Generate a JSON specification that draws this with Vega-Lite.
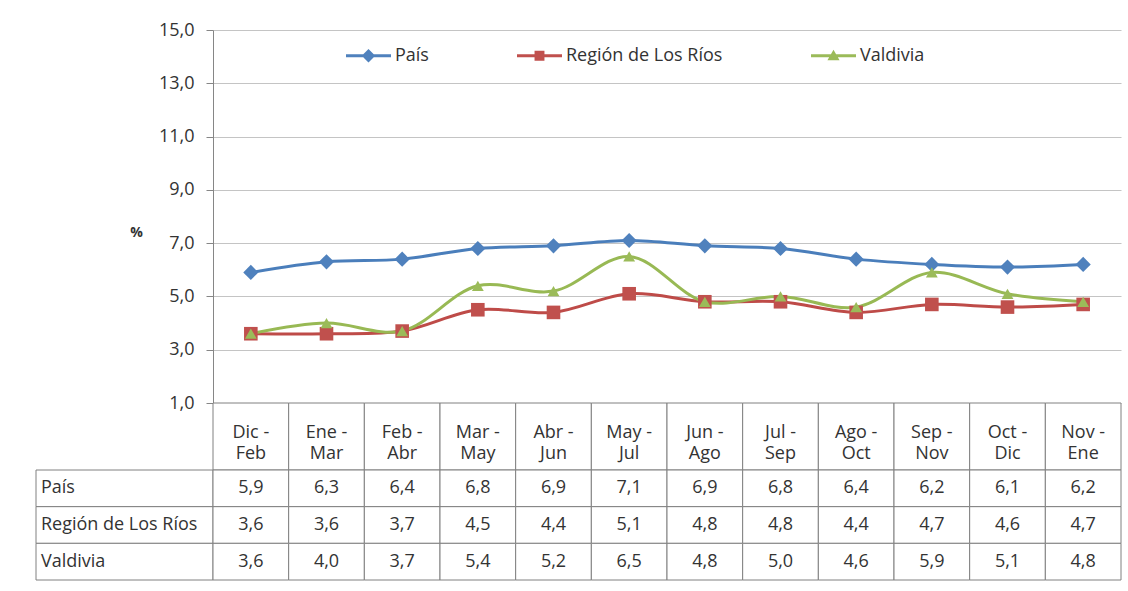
{
  "$schema": "https://vega.github.io/schema/vega-lite/v6.json",
  "padding": {"left": 35, "top": 21, "right": 6, "bottom": 8},
  "background": "white",
  "columns": 2,
  "spacing": 0,
  "bounds": "flush",
  "align": "each",
  "datasets": {
    "d": [
      {"periodo": "Dic -\nFeb", "serie": "País", "valor": 5.9},
      {"periodo": "Ene -\nMar", "serie": "País", "valor": 6.3},
      {"periodo": "Feb -\nAbr", "serie": "País", "valor": 6.4},
      {"periodo": "Mar -\nMay", "serie": "País", "valor": 6.8},
      {"periodo": "Abr -\nJun", "serie": "País", "valor": 6.9},
      {"periodo": "May -\nJul", "serie": "País", "valor": 7.1},
      {"periodo": "Jun -\nAgo", "serie": "País", "valor": 6.9},
      {"periodo": "Jul -\nSep", "serie": "País", "valor": 6.8},
      {"periodo": "Ago -\nOct", "serie": "País", "valor": 6.4},
      {"periodo": "Sep -\nNov", "serie": "País", "valor": 6.2},
      {"periodo": "Oct -\nDic", "serie": "País", "valor": 6.1},
      {"periodo": "Nov -\nEne", "serie": "País", "valor": 6.2},
      {"periodo": "Dic -\nFeb", "serie": "Región de Los Ríos", "valor": 3.6},
      {"periodo": "Ene -\nMar", "serie": "Región de Los Ríos", "valor": 3.6},
      {"periodo": "Feb -\nAbr", "serie": "Región de Los Ríos", "valor": 3.7},
      {"periodo": "Mar -\nMay", "serie": "Región de Los Ríos", "valor": 4.5},
      {"periodo": "Abr -\nJun", "serie": "Región de Los Ríos", "valor": 4.4},
      {"periodo": "May -\nJul", "serie": "Región de Los Ríos", "valor": 5.1},
      {"periodo": "Jun -\nAgo", "serie": "Región de Los Ríos", "valor": 4.8},
      {"periodo": "Jul -\nSep", "serie": "Región de Los Ríos", "valor": 4.8},
      {"periodo": "Ago -\nOct", "serie": "Región de Los Ríos", "valor": 4.4},
      {"periodo": "Sep -\nNov", "serie": "Región de Los Ríos", "valor": 4.7},
      {"periodo": "Oct -\nDic", "serie": "Región de Los Ríos", "valor": 4.6},
      {"periodo": "Nov -\nEne", "serie": "Región de Los Ríos", "valor": 4.7},
      {"periodo": "Dic -\nFeb", "serie": "Valdivia", "valor": 3.6},
      {"periodo": "Ene -\nMar", "serie": "Valdivia", "valor": 4.0},
      {"periodo": "Feb -\nAbr", "serie": "Valdivia", "valor": 3.7},
      {"periodo": "Mar -\nMay", "serie": "Valdivia", "valor": 5.4},
      {"periodo": "Abr -\nJun", "serie": "Valdivia", "valor": 5.2},
      {"periodo": "May -\nJul", "serie": "Valdivia", "valor": 6.5},
      {"periodo": "Jun -\nAgo", "serie": "Valdivia", "valor": 4.8},
      {"periodo": "Jul -\nSep", "serie": "Valdivia", "valor": 5.0},
      {"periodo": "Ago -\nOct", "serie": "Valdivia", "valor": 4.6},
      {"periodo": "Sep -\nNov", "serie": "Valdivia", "valor": 5.9},
      {"periodo": "Oct -\nDic", "serie": "Valdivia", "valor": 5.1},
      {"periodo": "Nov -\nEne", "serie": "Valdivia", "valor": 4.8}
    ]
  },
  "config": {
    "font": "Open Sans",
    "view": {"stroke": null},
    "locale": {"number": {"decimal": ",", "thousands": ".", "grouping": [3], "currency": ["$", ""]}}
  },
  "concat": [
    {
      "width": 177, "height": 373,
      "data": {"values": []},
      "mark": "point",
      "encoding": {}
    },
    {
      "width": 908, "height": 373,
      "data": {"name": "d"},
      "layer": [
        {
          "mark": {"type": "line", "interpolate": "catmull-rom", "strokeWidth": 3},
          "encoding": {
            "x": {"field": "periodo", "type": "nominal", "sort": null,
                  "scale": {"domain": ["Dic -\nFeb","Ene -\nMar","Feb -\nAbr","Mar -\nMay","Abr -\nJun","May -\nJul","Jun -\nAgo","Jul -\nSep","Ago -\nOct","Sep -\nNov","Oct -\nDic","Nov -\nEne"], "paddingInner": 0, "paddingOuter": 0},
                  "axis": null},
            "y": {"field": "valor", "type": "quantitative",
                  "scale": {"domain": [1, 15], "nice": false, "zero": false},
                  "axis": {"values": [1,3,5,7,9,11,13,15], "format": ".1f", "grid": true, "gridColor": "#C4C4C4", "gridWidth": 1,
                           "domainColor": "#868686", "tickColor": "#868686", "tickSize": 7, "labelPadding": 12,
                           "labelFontSize": 18, "labelColor": "#333333",
                           "title": "%", "titleAngle": 0, "titleX": -77, "titleY": 202, "titleAlign": "center", "titleBaseline": "middle",
                           "titleFontSize": 14, "titleFontWeight": "bold", "titleColor": "#333333"}},
            "color": {"field": "serie", "type": "nominal",
                      "scale": {"domain": ["País", "Región de Los Ríos", "Valdivia"], "range": ["#4A7EBB", "#BE4B48", "#98B954"]},
                      "legend": null}
          }
        },
        {
          "mark": {"type": "point", "filled": true, "opacity": 1},
          "encoding": {
            "x": {"field": "periodo", "type": "nominal", "sort": null},
            "y": {"field": "valor", "type": "quantitative"},
            "color": {"field": "serie", "type": "nominal",
                      "scale": {"domain": ["País", "Región de Los Ríos", "Valdivia"], "range": ["#4F81BD", "#C0504D", "#9BBB59"]},
                      "legend": null},
            "shape": {"field": "serie", "type": "nominal",
                      "scale": {"domain": ["País", "Región de Los Ríos", "Valdivia"], "range": ["diamond", "square", "triangle-up"]},
                      "legend": null},
            "size": {"field": "serie", "type": "nominal",
                     "scale": {"domain": ["País", "Región de Los Ríos", "Valdivia"], "range": [230, 140, 170]},
                     "legend": null}
          }
        },
        {
          "transform": [{"filter": "datum.valor > 100"}],
          "mark": {"type": "point", "filled": true, "opacity": 1},
          "encoding": {
            "color": {"field": "serie", "type": "nominal",
                      "scale": {"domain": ["País", "Región de Los Ríos", "Valdivia"], "range": ["#4F81BD", "#C0504D", "#9BBB59"]},
                      "legend": {"title": null, "orient": "none", "legendX": 133, "legendY": 3, "direction": "horizontal",
                                 "symbolSize": 2025, "symbolStrokeWidth": 0, "labelFontSize": 18, "labelColor": "#333333",
                                 "labelOffset": 4, "columnPadding": 88, "padding": 0}},
            "shape": {"field": "serie", "type": "nominal",
                      "scale": {"domain": ["País", "Región de Los Ríos", "Valdivia"],
                                "range": ["M-1,-0.067H1V0.067H-1ZM0,-0.3L0.3,0L0,0.3L-0.3,0Z",
                                          "M-1,-0.067H1V0.067H-1ZM-0.22,-0.22H0.22V0.22H-0.22Z",
                                          "M-1,-0.067H1V0.067H-1ZM0,-0.27L0.27,0.2H-0.27Z"]},
                      "legend": {"title": null, "orient": "none", "legendX": 133, "legendY": 3, "direction": "horizontal",
                                 "symbolSize": 2025, "symbolStrokeWidth": 0, "labelFontSize": 18, "labelColor": "#333333",
                                 "labelOffset": 4, "columnPadding": 88, "padding": 0}}
          }
        }
      ],
      "resolve": {"scale": {"color": "independent", "shape": "independent"}}
    },
    {
      "width": 177, "height": 67,
      "data": {"values": []},
      "mark": "point",
      "encoding": {}
    },
    {
      "width": 908, "height": 67,
      "data": {"name": "d"},
      "transform": [{"filter": "datum.serie === 'País'"}],
      "layer": [
        {
          "mark": {"type": "rect", "fill": "white", "stroke": "#808080", "strokeWidth": 1},
          "encoding": {
            "x": {"field": "periodo", "type": "nominal", "sort": null,
                  "scale": {"domain": ["Dic -\nFeb","Ene -\nMar","Feb -\nAbr","Mar -\nMay","Abr -\nJun","May -\nJul","Jun -\nAgo","Jul -\nSep","Ago -\nOct","Sep -\nNov","Oct -\nDic","Nov -\nEne"], "paddingInner": 0, "paddingOuter": 0},
                  "axis": null}
          }
        },
        {
          "mark": {"type": "text", "lineBreak": "\n", "fontSize": 18, "lineHeight": 21, "color": "#333333", "baseline": "middle", "dy": -4},
          "encoding": {
            "x": {"field": "periodo", "type": "nominal", "sort": null},
            "text": {"field": "periodo"}
          }
        }
      ]
    },
    {
      "width": 177, "height": 110,
      "data": {"name": "d"},
      "transform": [{"filter": "indexof(datum.periodo, 'Dic') === 0"}],
      "layer": [
        {
          "mark": {"type": "rect", "fill": "white", "stroke": "#808080", "strokeWidth": 1},
          "encoding": {
            "y": {"field": "serie", "type": "nominal", "sort": null,
                  "scale": {"domain": ["País", "Región de Los Ríos", "Valdivia"], "paddingInner": 0, "paddingOuter": 0},
                  "axis": null}
          }
        },
        {
          "mark": {"type": "text", "align": "left", "dx": 5, "fontSize": 18, "color": "#333333", "baseline": "middle"},
          "encoding": {
            "x": {"datum": 0, "type": "quantitative", "scale": {"domain": [0, 1]}, "axis": null},
            "y": {"field": "serie", "type": "nominal", "sort": null},
            "text": {"field": "serie"}
          }
        }
      ]
    },
    {
      "width": 908, "height": 110,
      "data": {"name": "d"},
      "layer": [
        {
          "mark": {"type": "rect", "fill": "white", "stroke": "#808080", "strokeWidth": 1},
          "encoding": {
            "x": {"field": "periodo", "type": "nominal", "sort": null,
                  "scale": {"domain": ["Dic -\nFeb","Ene -\nMar","Feb -\nAbr","Mar -\nMay","Abr -\nJun","May -\nJul","Jun -\nAgo","Jul -\nSep","Ago -\nOct","Sep -\nNov","Oct -\nDic","Nov -\nEne"], "paddingInner": 0, "paddingOuter": 0},
                  "axis": null},
            "y": {"field": "serie", "type": "nominal", "sort": null,
                  "scale": {"domain": ["País", "Región de Los Ríos", "Valdivia"], "paddingInner": 0, "paddingOuter": 0},
                  "axis": null}
          }
        },
        {
          "mark": {"type": "text", "fontSize": 18, "color": "#333333", "baseline": "middle"},
          "encoding": {
            "x": {"field": "periodo", "type": "nominal", "sort": null},
            "y": {"field": "serie", "type": "nominal", "sort": null},
            "text": {"field": "valor", "type": "quantitative", "format": ".1f"}
          }
        }
      ]
    }
  ]
}
